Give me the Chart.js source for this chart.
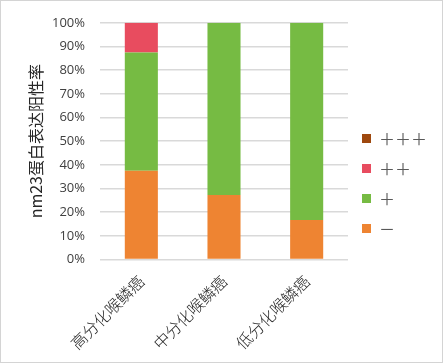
<!DOCTYPE html>
<html>
<head>
<meta charset="utf-8">
<script src="https://cdn.jsdelivr.net/npm/chart.js@4"></script>
<style>
  html, body { margin: 0; padding: 0; background: #fff; }
  #wrap { width: 443px; height: 363px; }
</style>
</head>
<body>
<div id="wrap"><canvas id="chart" width="443" height="363"></canvas></div>
<script>
// 分组
const categories = ['高分化喉鳞癌', '中分化喉鳞癌', '低分化喉鳞癌'];
// 各表达强度所占百分比
const negValues = [37.5, 27.3, 16.7];     // −
const plusValues = [50, 72.7, 83.3];      // +
const plus2Values = [12.5, 0, 0];         // ++
const plus3Values = [0, 0, 0];            // +++
const seriesLabels = ['－', '＋', '＋＋', '＋＋＋'];
const yTicks = [0, 10, 20, 30, 40, 50, 60, 70, 80, 90, 100];

const cores = ['#ee8432', '#76bb43', '#e84c5f', '#9e480e'];

// borda cinza em volta da imagem
const bordaPlugin = {
    id: 'borda',
    afterDraw(chart) {
        const ctx = chart.ctx;
        ctx.save();
        ctx.strokeStyle = '#d4d4d4';
        ctx.lineWidth = 1;
        ctx.strokeRect(0.5, 0.5, chart.width - 1, chart.height - 1);
        ctx.restore();
    }
};

const series = [negValues, plusValues, plus2Values, plus3Values];

new Chart(document.getElementById('chart').getContext('2d'), {
    type: 'bar',
    data: {
        labels: categories,
        datasets: series.map((vals, i) => ({
            label: seriesLabels[i],
            data: vals,
            backgroundColor: cores[i],
            borderWidth: 0,
            categoryPercentage: 1,
            barPercentage: 0.4
        }))
    },
    options: {
        responsive: false,
        animation: false,
        layout: { padding: { left: 0, right: 6, top: 10, bottom: 6 } },
        plugins: {
            tooltip: { enabled: false },
            legend: {
                position: 'right',
                reverse: true,
                labels: {
                    boxWidth: 9,
                    boxHeight: 9,
                    padding: 14,
                    color: '#595959',
                    font: { family: '"Noto Sans CJK SC", "Noto Sans"', size: 16 }
                }
            }
        },
        scales: {
            x: {
                stacked: true,
                grid: { display: false },
                border: { display: false },
                ticks: {
                    color: '#262626',
                    minRotation: 45,
                    maxRotation: 45,
                    padding: 4,
                    font: { family: '"Noto Sans CJK SC"', size: 16, weight: 300 }
                }
            },
            y: {
                stacked: true,
                min: 0,
                max: 100,
                afterBuildTicks(axis) {
                    axis.ticks = yTicks.map(v => ({ value: v }));
                },
                afterFit(axis) {
                    axis.width = 100;
                },
                grid: { color: '#d9d9d9', lineWidth: 1.5, drawTicks: false },
                border: { display: false },
                ticks: {
                    color: '#404040',
                    padding: 15,
                    font: { family: '"Open Sans", "Noto Sans"', size: 13 },
                    callback: v => v + '%'
                },
                title: {
                    display: true,
                    text: 'nm23蛋白表达阳性率',
                    color: '#262626',
                    padding: { top: 26, bottom: 0 },
                    font: { family: '"Noto Sans CJK SC"', size: 16 }
                }
            }
        }
    },
    plugins: [bordaPlugin]
});
</script>
</body>
</html>
